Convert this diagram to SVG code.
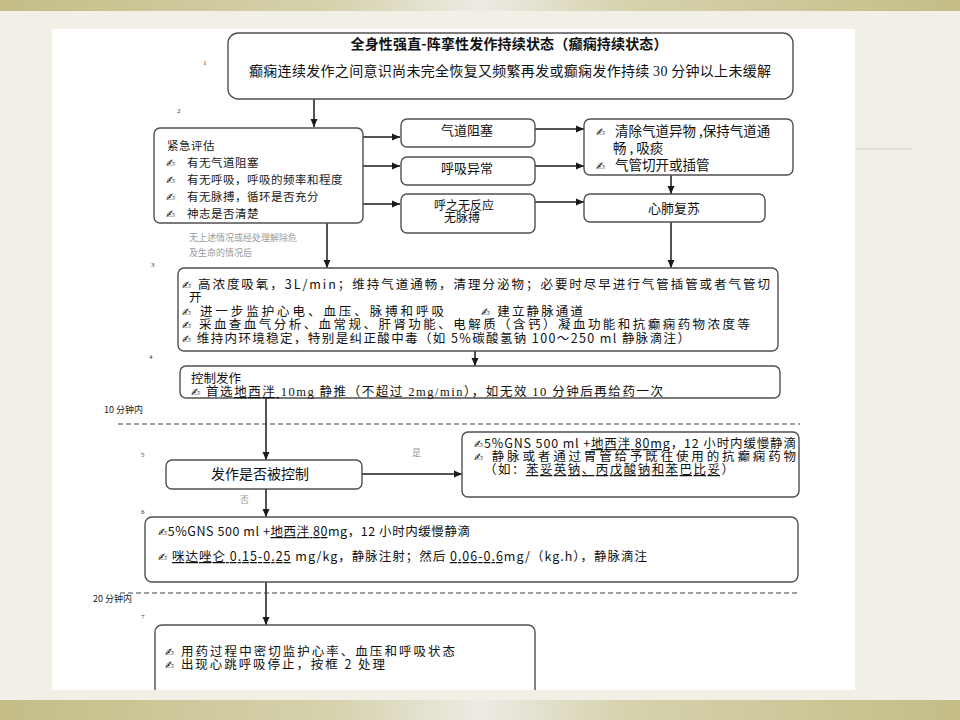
<svg xmlns="http://www.w3.org/2000/svg" width="960" height="720" viewBox="0 0 960 720">
<defs>
<linearGradient id="band" x1="0" y1="0" x2="1" y2="0">
<stop offset="0" stop-color="#c4bd86"/>
<stop offset="0.35" stop-color="#d6d2ad"/>
<stop offset="0.5" stop-color="#ecebe4"/>
<stop offset="0.65" stop-color="#d6d2ad"/>
<stop offset="1" stop-color="#c4bd86"/>
</linearGradient>
<marker id="ah" markerWidth="8" markerHeight="8" refX="8" refY="4" orient="auto" markerUnits="userSpaceOnUse">
<path d="M0,0.5 L8,4 L0,7.5 z" fill="#1a1a1a"/>
</marker>
<clipPath id="page"><rect x="52" y="29" width="803" height="661"/></clipPath>
<style>
.box{fill:#fff;stroke:#505050;stroke-width:1.4}
.t{font-family:"Noto Sans CJK SC","DejaVu Sans",sans-serif;font-size:14px;fill:#111}
.c{font-family:"Noto Sans CJK SC","DejaVu Sans",sans-serif;font-size:12.5px;fill:#111}
.tb{font-weight:bold}
.s{font-family:"Noto Sans CJK SC","DejaVu Sans",sans-serif;font-size:11.5px;fill:#1a1a1a;letter-spacing:0.5px}
.m{font-family:"Noto Sans CJK SC","DejaVu Sans",sans-serif;font-size:13px;fill:#111}
.bul{font-family:"DejaVu Sans",sans-serif;font-size:11px}
.serif{font-family:"Liberation Serif",serif}
.num{font-family:"Liberation Serif",serif;font-size:7px;fill:#333}
.grey{font-family:"Noto Sans CJK SC",sans-serif;font-size:9px;fill:#9a9a9a}
.lab{font-family:"Noto Sans CJK SC",sans-serif;font-size:9px;fill:#222}
.conn{stroke:#1a1a1a;stroke-width:1.5;fill:none}
.arr{marker-end:url(#ah)}
.dash{stroke:#444;stroke-width:1.2;stroke-dasharray:5 3;fill:none}
</style>
</defs>

<g id="background">
<rect x="0" y="0" width="960" height="720" fill="#f2f0e6"/>
<rect x="0" y="0" width="960" height="11" fill="url(#band)"/>
<rect x="0" y="700" width="960" height="20" fill="url(#band)"/>
<line x1="855" y1="149" x2="912" y2="149" stroke="#e0ded5" stroke-width="2"/>
<rect x="52" y="29" width="803" height="661" fill="#fff"/>
</g>

<g id="step-labels">
<text class="num" x="203" y="65">1</text>
<text class="num" x="177" y="113">2</text>
<text class="num" x="151" y="267">3</text>
<text class="num" x="149" y="359">4</text>
<text class="num" x="141" y="457">5</text>
<text class="num" x="141" y="514">6</text>
<text class="num" x="141" y="619">7</text>
<text class="grey" x="189" y="241">无上述情况或经处理解除危</text>
<text class="grey" x="189" y="256">及生命的情况后</text>
<text class="grey" x="412" y="456">是</text>
<text class="grey" x="240" y="503">否</text>
<text class="lab" x="104" y="413">10 分钟内</text>
<text class="lab" x="93" y="602">20 分钟内</text>
</g>

<g id="connectors">
<line class="conn arr" x1="314" y1="99" x2="314" y2="127"/>
<line class="conn arr" x1="363" y1="137" x2="400" y2="137"/>
<line class="conn arr" x1="363" y1="166" x2="400" y2="166"/>
<line class="conn arr" x1="363" y1="204" x2="400" y2="204"/>
<line class="conn arr" x1="535" y1="129" x2="584" y2="129"/>
<line class="conn arr" x1="535" y1="166" x2="584" y2="166"/>
<line class="conn arr" x1="535" y1="202" x2="584" y2="202"/>
<line class="conn arr" x1="671" y1="175" x2="671" y2="194"/>
<line class="conn arr" x1="327" y1="223" x2="327" y2="268"/>
<line class="conn arr" x1="671" y1="222" x2="671" y2="268"/>
<line class="conn arr" x1="475" y1="351" x2="475" y2="366"/>
<line class="conn arr" x1="266" y1="398" x2="266" y2="460"/>
<line class="conn arr" x1="362" y1="474" x2="462" y2="474"/>
<line class="conn arr" x1="266" y1="489" x2="266" y2="517"/>
<line class="conn arr" x1="266" y1="582" x2="266" y2="625"/>
<line class="dash" x1="118" y1="424" x2="800" y2="424"/>
<line class="dash" x1="120" y1="593" x2="800" y2="593"/>
</g>

<g id="node1">
<rect class="box" x="228" y="33" width="565" height="66" rx="10"/>
<text class="t tb" x="509" y="49" text-anchor="middle" textLength="317">全身性强直-阵挛性发作持续状态（癫痫持续状态）</text>
<text class="t" x="249" y="76" textLength="522">癫痫连续发作之间意识尚未完全恢复又频繁再发或癫痫发作持续 <tspan class="serif">30</tspan> 分钟以上未缓解</text>
</g>

<g id="node2">
<rect class="box" x="154" y="128" width="209" height="95" rx="6"/>
<text class="s" x="167" y="150">紧急评估</text>
<text class="s" x="166" y="167"><tspan class="bul">✍</tspan><tspan x="187">有无气道阻塞</tspan></text>
<text class="s" x="166" y="184"><tspan class="bul">✍</tspan><tspan x="187">有无呼吸，呼吸的频率和程度</tspan></text>
<text class="s" x="166" y="201"><tspan class="bul">✍</tspan><tspan x="187">有无脉搏，循环是否充分</tspan></text>
<text class="s" x="166" y="218"><tspan class="bul">✍</tspan><tspan x="187">神志是否清楚</tspan></text>
</g>

<g id="node-airway">
<rect class="box" x="401" y="119" width="134" height="28" rx="6"/>
<text class="m" x="467" y="135" text-anchor="middle">气道阻塞</text>
</g>

<g id="node-breath">
<rect class="box" x="401" y="157" width="134" height="28" rx="6"/>
<text class="m" x="467" y="173" text-anchor="middle">呼吸异常</text>
</g>

<g id="node-noresp">
<rect class="box" x="401" y="194" width="134" height="39" rx="6"/>
<text class="m" x="464" y="210" text-anchor="middle" style="font-size:12px">呼之无反应</text>
<text class="m" x="462" y="222" text-anchor="middle" style="font-size:12px">无脉搏</text>
</g>

<g id="node-clear">
<rect class="box" x="584" y="119" width="209" height="56" rx="6"/>
<text class="m" x="596" y="136" style="font-size:13.5px"><tspan class="bul">✍</tspan><tspan x="615">清除气道异物 ,保持气道通</tspan></text>
<text class="m" x="613" y="153" style="font-size:13.5px">畅 , 吸痰</text>
<text class="m" x="596" y="170" style="font-size:13.5px"><tspan class="bul">✍</tspan><tspan x="615">气管切开或插管</tspan></text>
</g>

<g id="node-cpr">
<rect class="box" x="584" y="194" width="181" height="28" rx="6"/>
<text class="m" x="674" y="213" text-anchor="middle">心肺复苏</text>
</g>

<g id="node3">
<rect class="box" x="178" y="268" width="600" height="83" rx="6"/>
<text class="c" x="182" y="289" textLength="588"><tspan class="bul">✍</tspan> 高浓度吸氧，3L/min；维持气道通畅，清理分泌物；必要时尽早进行气管插管或者气管切</text>
<text class="c" x="189" y="302">开</text>
<text class="c" x="182" y="316" textLength="262"><tspan class="bul">✍</tspan> 进一步监护心电、血压、脉搏和呼吸</text>
<text class="c" x="481" y="316" textLength="102"><tspan class="bul">✍</tspan> 建立静脉通道</text>
<text class="c" x="182" y="329" textLength="568"><tspan class="bul">✍</tspan> 采血查血气分析、血常规、肝肾功能、电解质（含钙）凝血功能和抗癫痫药物浓度等</text>
<text class="c" x="182" y="343" textLength="508"><tspan class="bul">✍</tspan> 维持内环境稳定，特别是纠正酸中毒（如 5%碳酸氢钠 100～250 ml 静脉滴注）</text>
</g>

<g id="node4">
<rect class="box" x="180" y="366" width="600" height="32" rx="6"/>
<text class="c" x="191" y="383">控制发作</text>
<text class="c" x="191" y="396" textLength="472"><tspan class="bul">✍</tspan> 首选<tspan text-decoration="underline">地西泮 </tspan><tspan class="serif">10mg</tspan> 静推（不超过 <tspan class="serif">2mg/min</tspan>），如无效 <tspan class="serif">10</tspan> 分钟后再给药一次</text>
</g>

<g id="node5">
<rect class="box" x="166" y="460" width="196" height="29" rx="6"/>
<text class="t" x="260" y="479" text-anchor="middle">发作是否被控制</text>
</g>

<g id="node5-yes">
<rect class="box" x="462" y="432" width="337" height="65" rx="6"/>
<text class="c" x="474" y="448" textLength="322"><tspan class="bul">✍</tspan>5%GNS 500 ml +<tspan text-decoration="underline">地西泮 80mg</tspan>，12 小时内缓慢静滴</text>
<text class="c" x="474" y="461" textLength="322"><tspan class="bul">✍</tspan> 静脉或者通过胃管给予既往使用的抗癫痫药物</text>
<text class="c" x="484" y="474" textLength="250">（如：<tspan text-decoration="underline">苯妥英钠、丙戊酸钠和苯巴比妥</tspan>）</text>
</g>

<g id="node6">
<rect class="box" x="145" y="517" width="653" height="65" rx="7"/>
<text class="c" x="158" y="536" textLength="312"><tspan class="bul">✍</tspan>5%GNS 500 ml +<tspan text-decoration="underline">地西泮 80</tspan>mg，12 小时内缓慢静滴</text>
<text class="c" x="158" y="561" textLength="489"><tspan class="bul">✍</tspan> <tspan text-decoration="underline">咪达唑仑    0.15-0.25</tspan> mg/kg，静脉注射；然后 <tspan text-decoration="underline">0.06-0.6</tspan>mg/（kg.h），静脉滴注</text>
</g>

<g id="node7" clip-path="url(#page)">
<rect class="box" x="155" y="625" width="380" height="73" rx="7"/>
<text class="c" x="165" y="656" textLength="290"><tspan class="bul">✍</tspan> 用药过程中密切监护心率、血压和呼吸状态</text>
<text class="c" x="165" y="669" textLength="220"><tspan class="bul">✍</tspan> 出现心跳呼吸停止，按框 2 处理</text>
</g>
</svg>
